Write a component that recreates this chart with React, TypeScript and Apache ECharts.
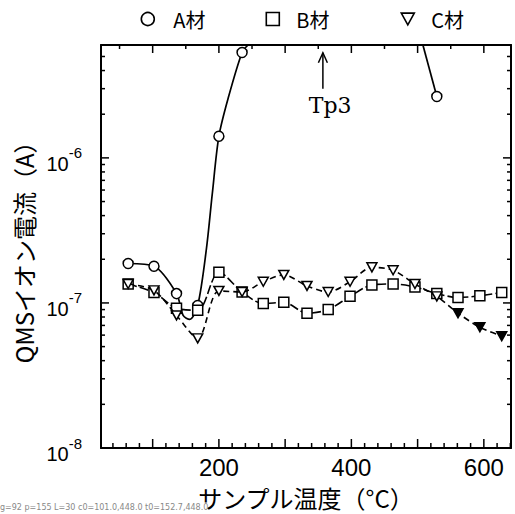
import React, { useEffect, useRef, useState } from 'react';
import * as echarts from 'echarts';

// Sample temperatures (°C) shared by the measured points
const temps = [63, 102, 136, 168, 200, 235, 267, 298, 333, 365, 398, 431, 463, 496, 529, 561, 594, 627];
// B材 (squares)
const bValues = [1.35e-7, 1.18e-7, 9.2e-8, 8.9e-8, 1.63e-7, 1.19e-7, 9.9e-8, 1.01e-7, 8.5e-8, 9.0e-8, 1.11e-7, 1.33e-7, 1.35e-7, 1.29e-7, 1.16e-7, 1.09e-7, 1.12e-7, 1.18e-7];
// C材 (triangles)
const cValues = [1.35e-7, 1.22e-7, 8.2e-8, 5.7e-8, 1.21e-7, 1.19e-7, 1.4e-7, 1.56e-7, 1.31e-7, 1.19e-7, 1.4e-7, 1.76e-7, 1.68e-7, 1.35e-7, 1.11e-7, 8.5e-8, 6.8e-8, 5.9e-8];
const cFilled = [false, false, false, false, false, false, false, false, false, false, false, false, false, false, false, true, true, true];
// A材 (circles) measured points
const aMarkTemps = [63, 102, 136, 168, 200, 235];
const aMarkValues = [1.87e-7, 1.79e-7, 1.16e-7, 9.6e-8, 1.41e-6, 5.33e-6];
// A材 curve read between markers (no symbol)
const aTraceTemps = [146, 156, 181, 190, 214, 244];
const aTraceValues = [8.2e-8, 7.7e-8, 2.33e-7, 5.64e-7, 2.58e-6, 6.0e-6];
// A材 right-hand segment (enters from the top of the frame)
const aRightTemps = [508, 529];
const aRightValues = [6.0e-6, 2.65e-6];
const aRightMarked = [false, true];

// Axis settings
const xMin = 22;
const xMax = 641;
const yMinValue = 1e-8;
const yMaxValue = 6e-6;
const xMajorTicks = [100, 200, 300, 400, 500, 600];
const xLabelTicks = [200, 400, 600];
const xMinorBottom = [40, 60, 80, 120, 140, 160, 180, 220, 240, 260, 280, 320, 340, 360, 380, 420, 440, 460, 480, 520, 540, 560, 580, 620, 640];
const xMinorTop = [50, 150, 250, 350, 450, 550];
const yDecades = [-8, -7, -6];
const yMantissas = [2, 3, 4, 5, 6, 7, 8, 9];

// Annotation
const tp3Temp = 357;
const tp3ArrowFrom = 3.0e-6;
const tp3ArrowTo = 5.3e-6;
const tp3LabelTemp = 368;
const tp3LabelValue = 2.3e-6;

const L = (v: number) => Math.log10(v);
const DOWN_TRI = 'path://M0,0 L10,0 L5,9 Z';

export default function App() {
  const ref = useRef<HTMLDivElement>(null);
  const [dbg, setDbg] = useState('');
  useEffect(() => {
    const chart = echarts.init(ref.current!, null, { renderer: 'svg' });

    const yMin = L(yMinValue);
    const yMax = L(yMaxValue);
    const yMinor: number[] = [];
    yDecades.forEach((d) => yMantissas.forEach((m) => {
      const v = L(m) + d;
      if (v < yMax) yMinor.push(v);
    }));

    const aItems: any[] = [];
    aMarkTemps.forEach((t, i) => aItems.push({ value: [t, L(aMarkValues[i])] }));
    aTraceTemps.forEach((t, i) => aItems.push({ value: [t, L(aTraceValues[i])], symbol: 'none' }));
    aItems.sort((p, q) => p.value[0] - q.value[0]);
    const aRight = aRightTemps.map((t, i) => (aRightMarked[i]
      ? { value: [t, L(aRightValues[i])] }
      : { value: [t, L(aRightValues[i])], symbol: 'none' }));

    const black = '#000';
    const markerStyle = { color: '#fff', borderColor: black, borderWidth: 1.5 };
    const tickFont = 'Liberation Sans';
    const jpFont = 'Noto Sans CJK JP';

    const legendBase = {
      top: 9,
      padding: 0,
      selectedMode: false,
      itemWidth: 13,
      itemHeight: 13,
      itemStyle: { color: '#fff', borderColor: black, borderWidth: 1.6 },
      textStyle: { fontSize: 20, color: black, fontFamily: jpFont, padding: [0, 0, 0, 12] },
    };

    const frameAxisX = { type: 'value', min: xMin, max: xMax, position: 'top', splitLine: { show: false }, axisTick: { show: false }, axisLabel: { show: false }, axisLine: { show: true, lineStyle: { color: black, width: 2 } } };
    const frameAxisY = { type: 'value', min: yMin, max: yMax, position: 'right', splitLine: { show: false }, axisTick: { show: false }, axisLabel: { show: false }, axisLine: { show: true, lineStyle: { color: black, width: 2 } } };

    const option: any = {
      animation: false,
      backgroundColor: '#fff',
      grid: { left: 101, right: 4, top: 45, bottom: 56 },
      legend: [
        { ...legendBase, left: 140.5, textStyle: { ...legendBase.textStyle, padding: [0, 0, 0, 14] }, data: [{ name: 'A材', icon: 'circle' }] },
        { ...legendBase, left: 265.5, data: [{ name: 'B材', icon: 'rect' }] },
        { ...legendBase, left: 400.5, data: [{ name: 'C材', icon: DOWN_TRI }] },
      ],
      xAxis: [
        {
          type: 'value', min: xMin, max: xMax, position: 'bottom',
          splitLine: { show: false },
          axisLine: { show: true, lineStyle: { color: black, width: 2 } },
          axisTick: { show: false },
          axisLabel: { show: true, customValues: xLabelTicks, fontSize: 24, color: black, fontFamily: tickFont, margin: 7 },
          name: 'サンプル温度（°C）', nameLocation: 'middle', nameGap: 37,
          nameTextStyle: { fontSize: 24, color: black, fontFamily: jpFont },
        },
        frameAxisX,
      ],
      yAxis: [
        {
          type: 'value', min: yMin, max: yMax, position: 'left',
          splitLine: { show: false },
          axisLine: { show: true, lineStyle: { color: black, width: 2 } },
          axisTick: { show: false },
          axisLabel: {
            show: true, customValues: yDecades, margin: 19,
            formatter: (v: number) => `{b|10}{s|-${Math.round(-v)}}`,
            rich: {
              b: { fontSize: 20, color: black, fontFamily: tickFont, padding: [12, 0, 0, 0] },
              s: { fontSize: 15, color: black, fontFamily: tickFont, padding: [0, 0, 10, 0] },
            },
          },
          name: 'QMSイオン電流（A）', nameLocation: 'middle', nameGap: 61, nameRotate: 90,
          nameTextStyle: { fontSize: 24, color: black, fontFamily: jpFont },
        },
        frameAxisY,
      ],
      series: [
        {
          name: 'A材', type: 'line', xAxisIndex: 0, yAxisIndex: 0,
          data: aItems, smooth: 0.3,
          symbol: 'circle', symbolSize: 10,
          itemStyle: markerStyle,
          lineStyle: { color: black, width: 1.7 },
          z: 3,
        },
        {
          name: 'A材 (>6e-6)', type: 'line', xAxisIndex: 0, yAxisIndex: 0,
          data: aRight, smooth: 0.3,
          symbol: 'circle', symbolSize: 10,
          itemStyle: markerStyle,
          lineStyle: { color: black, width: 1.7 },
          z: 3,
        },
        {
          name: 'B材', type: 'line', xAxisIndex: 0, yAxisIndex: 0,
          data: temps.map((t, i) => [t, L(bValues[i])]),
          smooth: 0.3,
          symbol: 'rect', symbolSize: 10,
          itemStyle: markerStyle,
          lineStyle: { color: black, width: 1.6, type: [9, 3] },
          z: 4,
        },
        {
          name: 'C材', type: 'line', xAxisIndex: 0, yAxisIndex: 0,
          data: temps.map((t, i) => (cFilled[i]
            ? { value: [t, L(cValues[i])], itemStyle: { color: black, borderColor: black } }
            : { value: [t, L(cValues[i])] })),
          smooth: 0.3,
          symbol: DOWN_TRI, symbolSize: [10, 9],
          itemStyle: markerStyle,
          lineStyle: { color: black, width: 1.6, type: [6, 4] },
          z: 5,
        },
      ],
    };

    chart.setOption(option);

    const px = (x: number, y: number) => chart.convertToPixel({ gridIndex: 0 }, [x, y]) as number[];
    const g: any[] = [];
    const tick = (x1: number, y1: number, x2: number, y2: number) =>
      g.push({ type: 'line', silent: true, z: 10, shape: { x1, y1, x2, y2 }, style: { stroke: black, lineWidth: 1.5 } });

    xMajorTicks.forEach((v) => {
      const b = px(v, yMin); const t = px(v, yMax);
      tick(b[0], b[1], b[0], b[1] - 9); tick(t[0], t[1], t[0], t[1] + 8);
    });
    xMinorBottom.forEach((v) => { const b = px(v, yMin); tick(b[0], b[1], b[0], b[1] - 5); });
    xMinorTop.forEach((v) => { const t = px(v, yMax); tick(t[0], t[1], t[0], t[1] + 4); });
    yDecades.forEach((v) => {
      const l = px(xMin, v); const r = px(xMax, v);
      tick(l[0], l[1], l[0] + 8, l[1]); tick(r[0], r[1], r[0] - 8, r[1]);
    });
    yMinor.forEach((v) => {
      const l = px(xMin, v); const r = px(xMax, v);
      tick(l[0], l[1], l[0] + 4, l[1]); tick(r[0], r[1], r[0] - 4, r[1]);
    });

    const from = px(tp3Temp, L(tp3ArrowFrom));
    const to = px(tp3Temp, L(tp3ArrowTo));
    const lab = px(tp3LabelTemp, L(tp3LabelValue));
    tick(from[0], from[1], to[0], to[1]);
    g.push({
      type: 'polyline', silent: true, z: 10,
      shape: { points: [[to[0] - 4.5, to[1] + 10], [to[0], to[1]], [to[0] + 4.5, to[1] + 10]] },
      style: { stroke: black, lineWidth: 1.5, fill: 'none' },
    });
    g.push({
      type: 'text', silent: true, z: 10, x: lab[0], y: lab[1],
      style: { text: 'Tp3', fill: black, fontSize: 22, fontFamily: 'DejaVu Serif', align: 'center', verticalAlign: 'middle' },
    });

    chart.setOption({ graphic: g });

    const svg = ref.current!.querySelector('svg');
    const paths = svg ? Array.from(svg.querySelectorAll('path')) : [];
    const c0 = px(xMin, yMin);
    const leftish = paths.filter((p) => /^M\s*10[01]/.test(p.getAttribute('d') || '')).length;
    setDbg(`g=${g.length} p=${paths.length} L=${leftish} c0=${c0.map((n) => n.toFixed(1)).join(',')} t0=${px(100, yMin).map((n) => n.toFixed(1)).join(',')}`);

    return () => chart.dispose();
  }, []);

  return (
    <div style={{ position: 'fixed', left: 0, top: 0, width: 515, height: 514, background: '#fff' }}>
      <div ref={ref} style={{ width: 515, height: 514 }} />
      <div style={{ position: 'absolute', left: 0, top: 503, fontSize: 8, fontFamily: 'DejaVu Sans', color: '#888', whiteSpace: 'nowrap' }}>{dbg}</div>
    </div>
  );
}
